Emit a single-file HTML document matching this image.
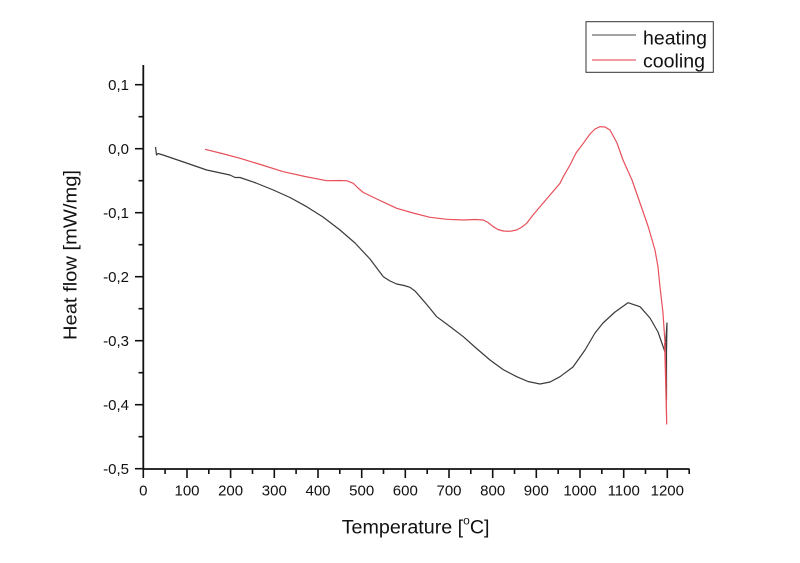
<!DOCTYPE html>
<html><head><meta charset="utf-8"><style>
html,body{margin:0;padding:0;background:#fff;}
svg{display:block;}
text{font-family:"Liberation Sans",Arial,sans-serif;fill:#111;}
</style></head><body>
<svg width="800" height="563" viewBox="0 0 800 563" xmlns="http://www.w3.org/2000/svg">
<rect width="800" height="563" fill="#fff"/>
<!-- axes -->
<g stroke="#111" stroke-width="1.8" fill="none">
<line x1="143.3" y1="65" x2="143.3" y2="469.5"/>
<line x1="142.5" y1="469" x2="689.5" y2="469"/>
</g>
<!-- y ticks -->
<g stroke="#111" stroke-width="1.6">
<line x1="135" y1="84.7" x2="143" y2="84.7"/>
<line x1="138.5" y1="116.7" x2="143" y2="116.7"/>
<line x1="135" y1="148.7" x2="143" y2="148.7"/>
<line x1="138.5" y1="180.7" x2="143" y2="180.7"/>
<line x1="135" y1="212.7" x2="143" y2="212.7"/>
<line x1="138.5" y1="244.7" x2="143" y2="244.7"/>
<line x1="135" y1="276.7" x2="143" y2="276.7"/>
<line x1="138.5" y1="308.7" x2="143" y2="308.7"/>
<line x1="135" y1="340.7" x2="143" y2="340.7"/>
<line x1="138.5" y1="372.7" x2="143" y2="372.7"/>
<line x1="135" y1="404.7" x2="143" y2="404.7"/>
<line x1="138.5" y1="436.7" x2="143" y2="436.7"/>
<line x1="135" y1="468.7" x2="143" y2="468.7"/>
</g>
<g font-size="15" text-anchor="end">
<text x="129" y="90">0,1</text>
<text x="129" y="154">0,0</text>
<text x="129" y="218">-0,1</text>
<text x="129" y="282">-0,2</text>
<text x="129" y="346">-0,3</text>
<text x="129" y="410">-0,4</text>
<text x="129" y="474">-0,5</text>
</g>
<!-- x ticks -->
<g stroke="#111" stroke-width="1.6">
<line x1="143.3" y1="469" x2="143.3" y2="478"/>
<line x1="187" y1="469" x2="187" y2="478"/>
<line x1="230.6" y1="469" x2="230.6" y2="478"/>
<line x1="274.3" y1="469" x2="274.3" y2="478"/>
<line x1="318" y1="469" x2="318" y2="478"/>
<line x1="361.7" y1="469" x2="361.7" y2="478"/>
<line x1="405.3" y1="469" x2="405.3" y2="478"/>
<line x1="449" y1="469" x2="449" y2="478"/>
<line x1="492.7" y1="469" x2="492.7" y2="478"/>
<line x1="536.3" y1="469" x2="536.3" y2="478"/>
<line x1="580" y1="469" x2="580" y2="478"/>
<line x1="623.7" y1="469" x2="623.7" y2="478"/>
<line x1="667.3" y1="469" x2="667.3" y2="478"/>
<line x1="165.1" y1="469" x2="165.1" y2="474"/>
<line x1="208.8" y1="469" x2="208.8" y2="474"/>
<line x1="252.5" y1="469" x2="252.5" y2="474"/>
<line x1="296.1" y1="469" x2="296.1" y2="474"/>
<line x1="339.8" y1="469" x2="339.8" y2="474"/>
<line x1="383.5" y1="469" x2="383.5" y2="474"/>
<line x1="427.2" y1="469" x2="427.2" y2="474"/>
<line x1="470.8" y1="469" x2="470.8" y2="474"/>
<line x1="514.5" y1="469" x2="514.5" y2="474"/>
<line x1="558.2" y1="469" x2="558.2" y2="474"/>
<line x1="601.8" y1="469" x2="601.8" y2="474"/>
<line x1="645.5" y1="469" x2="645.5" y2="474"/>
<line x1="689.2" y1="469" x2="689.2" y2="474"/>
</g>
<g font-size="15" text-anchor="middle">
<text x="143.3" y="495.5">0</text>
<text x="187" y="495.5">100</text>
<text x="230.6" y="495.5">200</text>
<text x="274.3" y="495.5">300</text>
<text x="318" y="495.5">400</text>
<text x="361.7" y="495.5">500</text>
<text x="405.3" y="495.5">600</text>
<text x="449" y="495.5">700</text>
<text x="492.7" y="495.5">800</text>
<text x="536.3" y="495.5">900</text>
<text x="580" y="495.5">1000</text>
<text x="623.7" y="495.5">1100</text>
<text x="667.3" y="495.5">1200</text>
</g>
<!-- axis titles -->
<text x="341.7" y="533.3" font-size="19.7">Temperature [<tspan font-size="12" dy="-9">o</tspan><tspan dy="9">C]</tspan></text>
<text transform="translate(76.5,255) rotate(-90)" font-size="18" text-anchor="middle" textLength="170" lengthAdjust="spacingAndGlyphs">Heat flow [mW/mg]</text>
<!-- heating curve -->
<path fill="none" stroke="#3a3a3a" stroke-width="1.2" stroke-linejoin="round" d="M155.5,147 L156.5,155 L158,153.5 L163,155 L185,162.5 L206.7,170 L230,175 L235,177.5 L240,177.5 L256,183 L273.3,190 L290,197.5 L306.7,206.7 L323,217 L340,230 L355,243 L370,259 L383.3,276.7 L390,281 L396.7,284 L404,285.5 L410,287.3 L415,291 L420,296.7 L428,306 L436.7,316.7 L450,326.5 L463.3,336.7 L476,348 L490,360 L503,369.5 L516.7,376.7 L528,381.5 L540,384 L550,382 L560,376.7 L573,367 L585,350 L595,333 L603,323 L615,312 L628,302.7 L640,306.7 L650,318 L658,332 L665,352 L667,323 L666.5,352 L666.5,400"/>
<!-- cooling curve -->
<path fill="none" stroke="#e8505a" stroke-width="1.2" stroke-linejoin="round" d="M205,149.3 L222,153.5 L240,158.3 L262,165 L283.3,171.7 L305,176.5 L326.7,180.7 L340,180.5 L346.7,180.7 L353.3,183.3 L358,188 L363.3,192.5 L380,200.5 L396.7,208.3 L413,213 L430,217.3 L447,219.3 L463.3,220 L475,219.5 L483.3,220 L488,222.5 L493.3,226.7 L498,229.5 L503.3,231 L510,231.3 L516.7,230 L522,227 L526.7,223.3 L533,215 L540,206.7 L550,195 L560,183.3 L563.3,176.7 L570,165 L576,153 L583.3,143.3 L590,134 L595,129 L600,126.7 L605,127 L610,130 L617,143 L623,160 L632,180 L640,203 L648,226 L655,250 L658,267 L660,287 L663,313 L665,343 L666,380 L666.7,424 L665.6,380 L664.6,343"/>
<!-- legend -->
<rect x="586" y="21.7" width="127.3" height="50.6" fill="#fff" stroke="#333" stroke-width="1"/>
<line x1="592" y1="35" x2="636" y2="35" stroke="#6a6a6a" stroke-width="1.2"/>
<line x1="592" y1="60" x2="636" y2="60" stroke="#e8606a" stroke-width="1.2"/>
<text x="643" y="44.5" font-size="19" textLength="64" lengthAdjust="spacingAndGlyphs">heating</text>
<text x="643" y="67.3" font-size="19" textLength="62" lengthAdjust="spacingAndGlyphs">cooling</text>
</svg>
</body></html>
